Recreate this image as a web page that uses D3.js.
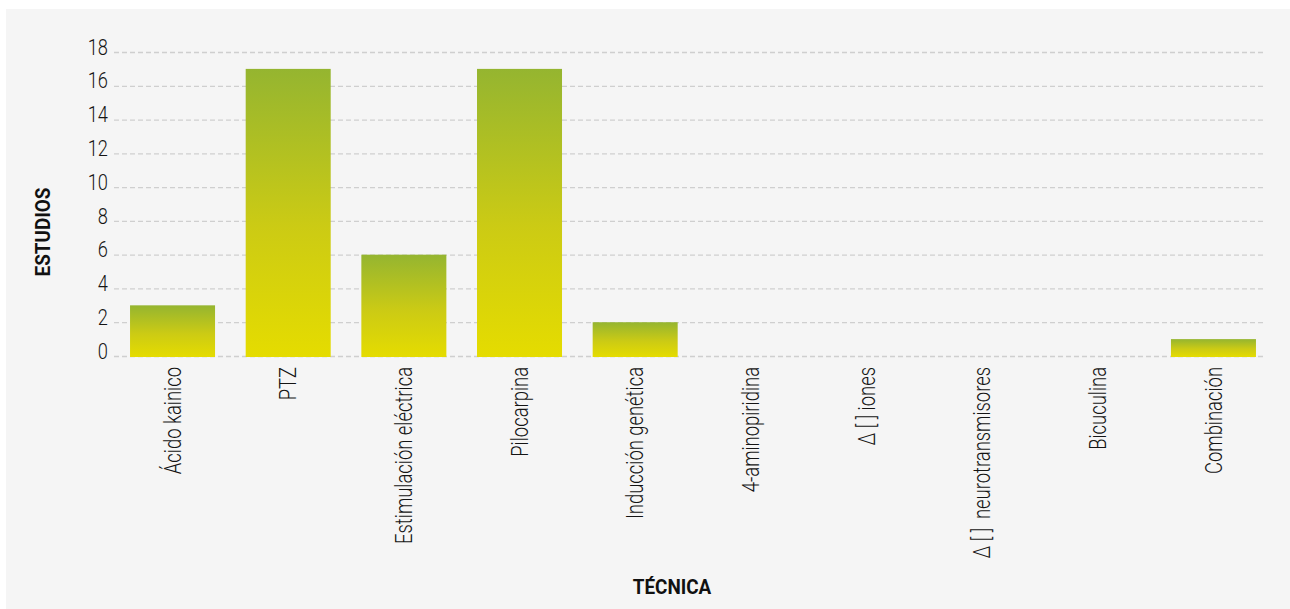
<!DOCTYPE html>
<html>
<head>
<meta charset="utf-8">
<script src="https://cdn.jsdelivr.net/npm/d3@7"></script>
<style>
  html, body { margin: 0; padding: 0; background: #ffffff; }
  svg { display: block; }
  .tick text { font-family: Roboto, "DejaVu Sans Condensed", sans-serif; font-weight: 300; fill: #141414; }
</style>
</head>
<body>
<svg id="chart" width="1290" height="609"></svg>
<script>
// Studies per seizure-induction technique
const categories = [
  "Ácido kainico",
  "PTZ",
  "Estimulación eléctrica",
  "Pilocarpina",
  "Inducción genética",
  "4-aminopiridina",
  "Δ [ ] iones",
  "Δ [ ]  neurotransmisores",
  "Bicuculina",
  "Combinación"
];
const studies = [3, 17, 6, 17, 2, 0, 0, 0, 0, 1];
const yTicks = [0, 2, 4, 6, 8, 10, 12, 14, 16, 18];
const yTitle = "ESTUDIOS";
const xTitle = "TÉCNICA";

const svg = d3.select("#chart");
const W = 1290, H = 609;
const narrow = 0.8;   // horizontal squeeze giving a condensed look

// light panel behind the chart
svg.append("rect")
  .attr("x", 6).attr("y", 9)
  .attr("width", W - 6).attr("height", H - 9)
  .attr("fill", "#f5f5f5");

const plot = { left: 114, right: 1264, top: 52, bottom: 356 };

const x = d3.scaleBand()
  .domain(categories)
  .range([115, 1271])
  .paddingInner(0.265)
  .paddingOuter(0.13);

const y = d3.scaleLinear()
  .domain([0, 18])
  .range([plot.bottom, plot.top]);

// vertical gradient for bars
const defs = svg.append("defs");
const grad = defs.append("linearGradient")
  .attr("id", "barFill")
  .attr("x1", 0).attr("y1", 0).attr("x2", 0).attr("y2", 1);
grad.append("stop").attr("offset", "0%").attr("stop-color", "#95b530");
grad.append("stop").attr("offset", "55%").attr("stop-color", "#cccb14");
grad.append("stop").attr("offset", "100%").attr("stop-color", "#e5dc00");

// dashed horizontal grid
svg.append("g")
  .selectAll("line")
  .data(yTicks)
  .join("line")
  .attr("x1", plot.left).attr("x2", plot.right)
  .attr("y1", d => y(d) + 0.5).attr("y2", d => y(d) + 0.5)
  .attr("stroke", "#cfcfcf")
  .attr("stroke-width", 1.3)
  .attr("stroke-dasharray", "5,3");

// y axis labels
const yAxis = svg.append("g")
  .attr("transform", `translate(${plot.left - 6},0)`)
  .call(d3.axisLeft(y).tickValues(yTicks).tickSize(0).tickPadding(0));
yAxis.select(".domain").remove();
yAxis.selectAll(".tick text")
  .attr("font-size", 22)
  .attr("dy", "0.1em")
  .attr("transform", `scale(${narrow + 0.03},1)`);

// bars
svg.append("g")
  .selectAll("rect")
  .data(categories.map((c, i) => ({ c, v: studies[i] })))
  .join("rect")
  .attr("x", d => x(d.c))
  .attr("width", x.bandwidth())
  .attr("y", d => y(d.v))
  .attr("height", d => y(0) - y(d.v) + 1)
  .attr("fill", "url(#barFill)")
  .style("display", d => d.v > 0 ? null : "none");

// x axis labels, rotated
const xAxis = svg.append("g")
  .attr("transform", `translate(0,${plot.bottom + 11})`)
  .call(d3.axisBottom(x).tickSize(0).tickPadding(0));
xAxis.select(".domain").remove();
xAxis.selectAll(".tick text")
  .attr("font-size", 23)
  .attr("transform", `rotate(-90) scale(${narrow},1)`)
  .attr("text-anchor", "end")
  .attr("x", 0)
  .attr("y", 0)
  .attr("dx", 0)
  .attr("dy", "0.36em")
  .style("white-space", "pre");

// axis titles
const titleFont = "Roboto, 'DejaVu Sans Condensed', sans-serif";
svg.append("text")
  .attr("transform", "translate(50,232) rotate(-90) scale(0.9,1)")
  .attr("text-anchor", "middle")
  .attr("font-family", titleFont)
  .attr("font-weight", "bold")
  .attr("font-size", 21)
  .attr("fill", "#111")
  .text(yTitle);

svg.append("text")
  .attr("transform", "translate(672,594) scale(0.9,1)")
  .attr("text-anchor", "middle")
  .attr("font-family", titleFont)
  .attr("font-weight", "bold")
  .attr("font-size", 21)
  .attr("fill", "#111")
  .text(xTitle);
</script>
</body>
</html>
